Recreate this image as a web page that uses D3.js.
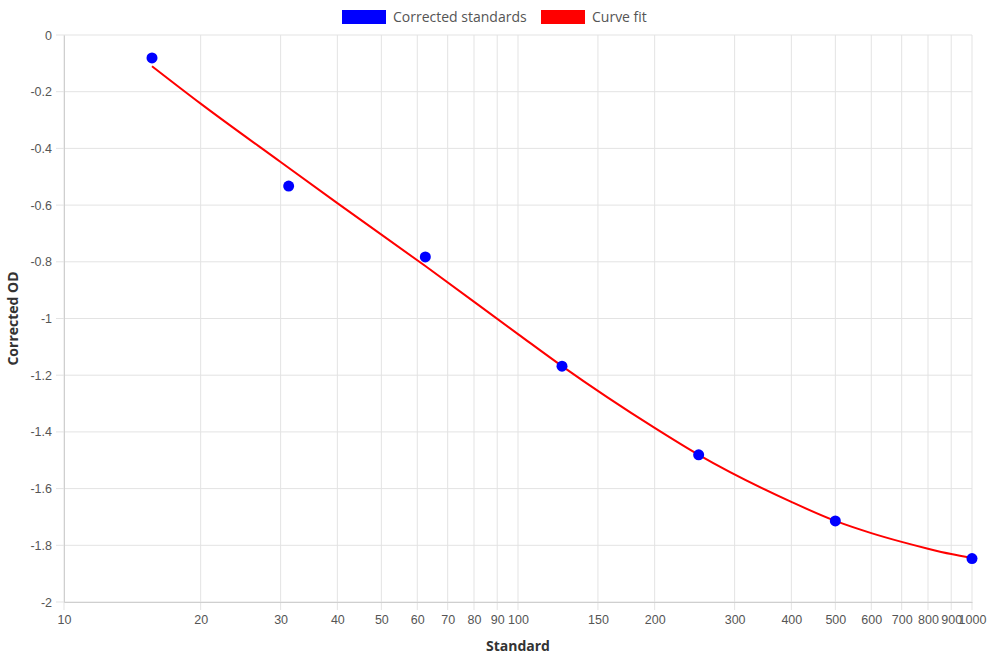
<!DOCTYPE html>
<html>
<head>
<meta charset="utf-8">
<script src="https://cdn.jsdelivr.net/npm/d3@7"></script>
<style>
  body { margin: 0; background: #fff; }
  svg { display: block; }
</style>
</head>
<body>
<svg width="990" height="660"></svg>
<script>
// standards (x) and corrected OD readings
var standards = [15.625, 31.25, 62.5, 125, 250, 500, 1000];
var correctedOD = [-0.081, -0.533, -0.783, -1.168, -1.481, -1.714, -1.847];

// curve fit values
var fitX = [15.625, 20, 30, 40, 62.5, 100, 125, 200, 250, 400, 500, 600, 700, 800, 900, 1000];
var fitY = [-0.11, -0.242, -0.448, -0.593, -0.815, -1.055, -1.168, -1.386, -1.481, -1.647, -1.714, -1.757, -1.788, -1.812, -1.831, -1.845];

var xTicks = [10, 20, 30, 40, 50, 60, 70, 80, 90, 100, 150, 200, 300, 400, 500, 600, 700, 800, 900, 1000];
var yTicks = [0, -0.2, -0.4, -0.6, -0.8, -1, -1.2, -1.4, -1.6, -1.8, -2];

var svg = d3.select("svg");
var plotLeft = 64, plotRight = 972, plotTop = 35, plotBottom = 602;
var tickFont = "'Liberation Sans', Arial, sans-serif";
var titleFont = "'Open Sans', sans-serif";

var x = d3.scaleLog().domain([10, 1000]).range([plotLeft, plotRight]);
var y = d3.scaleLinear().domain([-2, 0]).range([plotBottom, plotTop]);

// grid
svg.append("g").selectAll("line")
  .data(xTicks)
  .enter().append("line")
  .attr("x1", function(d) { return x(d); })
  .attr("x2", function(d) { return x(d); })
  .attr("y1", plotTop)
  .attr("y2", plotBottom + 8)
  .attr("stroke", "#e3e3e3");

svg.append("g").selectAll("line")
  .data(yTicks)
  .enter().append("line")
  .attr("x1", plotLeft - 8)
  .attr("x2", plotRight)
  .attr("y1", function(d) { return y(d); })
  .attr("y2", function(d) { return y(d); })
  .attr("stroke", "#e3e3e3");

// axes
var xAxis = svg.append("g")
  .attr("transform", "translate(0," + plotBottom + ")")
  .call(d3.axisBottom(x).tickValues(xTicks).tickFormat(d3.format("d")).tickSize(0).tickPadding(13));
var yAxis = svg.append("g")
  .attr("transform", "translate(" + plotLeft + ",0)")
  .call(d3.axisLeft(y).tickValues(yTicks).tickFormat(function(d) { return d; }).tickSize(0).tickPadding(12));

[xAxis, yAxis].forEach(function(a) {
  a.select(".domain").attr("stroke", "#cfcfcf");
  a.selectAll("text")
    .attr("fill", "#555")
    .style("font-family", tickFont)
    .style("font-size", "12.5px");
});

// axis titles
svg.append("text")
  .attr("x", (plotLeft + plotRight) / 2)
  .attr("y", 651)
  .attr("text-anchor", "middle")
  .style("font-family", titleFont)
  .style("font-size", "14px")
  .style("font-weight", "bold")
  .attr("fill", "#333")
  .text("Standard");

svg.append("text")
  .attr("transform", "translate(18," + (plotTop + plotBottom) / 2 + ") rotate(-90)")
  .attr("text-anchor", "middle")
  .style("font-family", titleFont)
  .style("font-size", "14px")
  .style("font-weight", "bold")
  .attr("fill", "#333")
  .text("Corrected OD");

// curve fit
var fit = fitX.map(function(d, i) { return [d, fitY[i]]; });
svg.append("path")
  .datum(fit)
  .attr("fill", "none")
  .attr("stroke", "#ff0000")
  .attr("stroke-width", 2)
  .attr("d", d3.line()
    .x(function(d) { return x(d[0]); })
    .y(function(d) { return y(d[1]); })
    .curve(d3.curveMonotoneX));

// standards
svg.append("g").selectAll("circle")
  .data(standards)
  .enter().append("circle")
  .attr("cx", function(d) { return x(d); })
  .attr("cy", function(d, i) { return y(correctedOD[i]); })
  .attr("r", 5.5)
  .attr("fill", "#0000ff");

// legend
var legend = [["Corrected standards", "#0000ff", 342], ["Curve fit", "#ff0000", 541]];
legend.forEach(function(l) {
  svg.append("rect")
    .attr("x", l[2]).attr("y", 10)
    .attr("width", 44).attr("height", 14)
    .attr("fill", l[1]);
  svg.append("text")
    .attr("x", l[2] + 51).attr("y", 22)
    .style("font-family", titleFont)
    .style("font-size", "14px")
    .attr("fill", "#555")
    .text(l[0]);
});
</script>
</body>
</html>
